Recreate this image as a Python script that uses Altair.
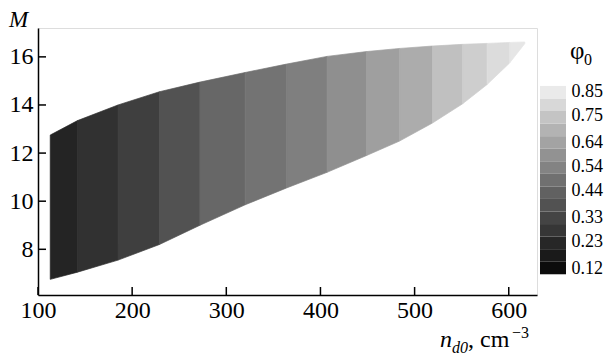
import altair as alt
import pandas as pd

# ---- data ----
# band boundaries along n_d0 (cm^-3)
band_edges_nd0 = [113, 142, 185, 229, 272, 320, 364, 407, 449, 484, 519, 551, 577, 601, 617]
# upper and lower boundary of the region (M) at those n_d0 values
upper_M = [12.75, 13.35, 14.0, 14.55, 14.95, 15.35, 15.7, 16.02, 16.22, 16.35, 16.45, 16.52, 16.56, 16.6, 16.62]
lower_M = [6.75, 7.05, 7.55, 8.2, 9.0, 9.85, 10.55, 11.2, 11.9, 12.5, 13.25, 14.05, 14.85, 15.75, 16.55]
# phi0 value of each band
band_phi = [0.21, 0.26, 0.31, 0.38, 0.45, 0.49, 0.53, 0.58, 0.63, 0.67, 0.73, 0.77, 0.81, 0.84]

# colour bar
legend_edges = [0.094, 0.146, 0.198, 0.25, 0.302, 0.354, 0.406, 0.458, 0.51, 0.562, 0.614, 0.666, 0.718, 0.77, 0.822, 0.874]
legend_levels = [0.12, 0.17, 0.22, 0.28, 0.33, 0.38, 0.43, 0.48, 0.54, 0.59, 0.64, 0.69, 0.74, 0.80, 0.85]
legend_labels = [0.12, 0.23, 0.33, 0.44, 0.54, 0.64, 0.75, 0.85]

x_ticks = [100, 200, 300, 400, 500, 600]
y_ticks = [8, 10, 12, 14, 16]

# ---- tables ----
rows = []
for i, phi in enumerate(band_phi):
    for j in (i, i + 1):
        rows.append({"band": i, "nd0": band_edges_nd0[j], "lo": lower_M[j], "hi": upper_M[j], "phi": phi})
bands = pd.DataFrame(rows)

leg = pd.DataFrame({
    "y1": legend_edges[:-1],
    "y2": legend_edges[1:],
    "phi": legend_levels,
})

W, H = 499, 267
FONT = "Liberation Serif"

xs = alt.Scale(domain=[100, 630], nice=False, zero=False)
ys = alt.Scale(domain=[6.1, 17.2], nice=False, zero=False)
cs = alt.Scale(domain=[0.094, 0.874], range=["#000000", "#f2f2f2"])

x_axis = alt.Axis(values=x_ticks, title=None, grid=False, ticks=False, tickSize=0,
                  domainColor="black", domainWidth=1.5, labelFont=FONT, labelFontSize=24,
                  labelColor="black", labelPadding=3, labelFlush=False)
y_axis = alt.Axis(values=y_ticks, title=None, grid=False, ticks=False, tickSize=0,
                  domainColor="black", domainWidth=1.5, labelFont=FONT, labelFontSize=24,
                  labelColor="black", labelPadding=5)

area = alt.Chart(bands).mark_area(strokeWidth=0.7, orient="vertical").encode(
    x=alt.X("nd0:Q", scale=xs, axis=x_axis),
    y=alt.Y("lo:Q", scale=ys, axis=y_axis),
    y2="hi:Q",
    fill=alt.Fill("phi:Q", scale=cs, legend=None),
    stroke=alt.Stroke("phi:Q", scale=cs, legend=None),
    detail="band:N",
)

xt = alt.Chart(pd.DataFrame({"t": x_ticks})).mark_rule(color="black", strokeWidth=1.5).encode(
    x=alt.X("t:Q", scale=xs, axis=x_axis),
    y=alt.value(H),
    y2=alt.value(H - 8),
)
yt = alt.Chart(pd.DataFrame({"t": y_ticks})).mark_rule(color="black", strokeWidth=1.5).encode(
    y=alt.Y("t:Q", scale=ys, axis=y_axis),
    x=alt.value(0),
    x2=alt.value(8),
)

one = alt.Data(values=[{}])

def txt(s, x, y, size, italic=False, align="left"):
    return alt.Chart(one).mark_text(
        text=s, font=FONT, fontSize=size, fontStyle="italic" if italic else "normal",
        align=align, baseline="alphabetic", color="black",
    ).encode(x=alt.value(x), y=alt.value(y))

texts = [
    txt("M", -29, -1, 23, italic=True),
    txt("n", 402, 319, 24, italic=True),
    txt("d0", 414, 325, 16, italic=True),
    txt(", cm", 430, 319, 24),
    txt("\u22123", 474, 310, 16),
    txt("\u03c6", 532, 31, 25),
    txt("0", 546, 37, 16),
]

main = alt.layer(area, xt, yt, *texts)

legbar = alt.Chart(leg).mark_rect().encode(
    y=alt.Y("y1:Q", scale=alt.Scale(domain=[0.0082, 1.1138], nice=False, zero=False),
            axis=alt.Axis(orient="right", values=legend_labels, format=".2f", title=None,
                          domain=False, ticks=False, tickSize=0, grid=False, offset=30,
                          labelPadding=4, labelFont=FONT, labelFontSize=18, labelColor="black")),
    y2="y2:Q",
    x=alt.value(502),
    x2=alt.value(528),
    fill=alt.Fill("phi:Q", scale=cs, legend=None),
)

chart = alt.layer(main, legbar).resolve_scale(y="independent").properties(
    width=W, height=H,
    autosize=alt.AutoSizeParams(type="none"),
    padding={"left": 38, "top": 28, "right": 76, "bottom": 61},
).configure_view(stroke=None).configure(background="white")

chart.save("out.html", embed_options={"renderer": "svg", "actions": False})
